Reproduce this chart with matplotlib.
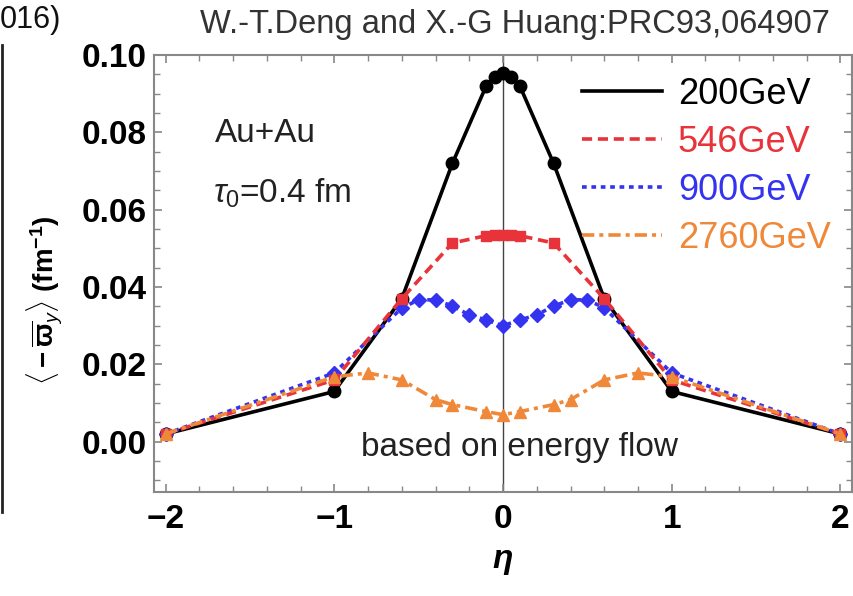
import numpy as np
import matplotlib.pyplot as plt
from matplotlib.lines import Line2D
from matplotlib.ticker import MultipleLocator

plt.rcParams['font.family'] = ['Liberation Sans', 'DejaVu Sans']
plt.rcParams['mathtext.fontset'] = 'custom'
plt.rcParams['mathtext.rm'] = 'Liberation Sans'
plt.rcParams['mathtext.it'] = 'Liberation Sans:italic'
plt.rcParams['mathtext.bf'] = 'Liberation Sans:bold'

# data: <-varpi_y> vs eta
eta_200 = [-2, -1, -0.6, -0.3, -0.1, -0.05, 0, 0.05, 0.1, 0.3, 0.6, 1, 2]
w_200 = [0.002, 0.013, 0.037, 0.072, 0.092, 0.0943, 0.0953, 0.0943, 0.092, 0.072, 0.037, 0.013, 0.002]

eta_546 = [-2, -1, -0.6, -0.3, -0.1, -0.05, 0, 0.05, 0.1, 0.3, 0.6, 1, 2]
w_546 = [0.002, 0.016, 0.037, 0.0514, 0.0533, 0.0535, 0.0535, 0.0535, 0.0533, 0.0514, 0.037, 0.016, 0.002]

eta_900 = [-2, -1, -0.6, -0.5, -0.4, -0.3, -0.2, -0.1, 0, 0.1, 0.2, 0.3, 0.4, 0.5, 0.6, 1, 2]
w_900 = [0.002, 0.0178, 0.0346, 0.0367, 0.0367, 0.0351, 0.0328, 0.0315, 0.030, 0.0315, 0.0328, 0.0351, 0.0367, 0.0367, 0.0346, 0.0178, 0.002]

eta_2760 = [-2, -1, -0.8, -0.6, -0.4, -0.3, -0.1, 0, 0.1, 0.3, 0.4, 0.6, 0.8, 1, 2]
w_2760 = [0.002, 0.0168, 0.0178, 0.016, 0.0109, 0.0096, 0.0078, 0.007, 0.0078, 0.0096, 0.0109, 0.016, 0.0178, 0.0168, 0.002]

labels = ['200GeV', '546GeV', '900GeV', '2760GeV']
colors = ['#000000', '#e8333a', '#3434f0', '#f0883a']

fig = plt.figure(figsize=(8.54, 5.96), dpi=100)
ax = fig.add_axes([0.180, 0.1745, 0.818, 0.733])

ax.axvline(0, color='#444444', lw=1.0, zorder=1)

styles = [
    dict(ls='-', marker='o', ms=9, zorder=2),
    dict(dashes=(2.8, 1.6), marker='s', ms=7, zorder=4),
    dict(dashes=(1.3, 1.3), marker='D', ms=7.5, zorder=3),
    dict(dashes=(3.4, 1.4, 1.1, 1.4), marker='^', ms=8, zorder=5),
]
series = [(eta_200, w_200), (eta_546, w_546), (eta_900, w_900), (eta_2760, w_2760)]

handles = []
for (x, y), c, lab, st in zip(series, colors, labels, styles):
    ax.plot(x, y, color=c, lw=2.6, mec=c, mfc=c, **st)
    st2 = {k: v for k, v in st.items() if k in ('ls', 'dashes')}
    handles.append(Line2D([], [], color=c, lw=2.6, **st2))

leg = ax.legend(handles, labels, loc='upper right', bbox_to_anchor=(1.0, 1.0),
                frameon=False, fontsize=26, handlelength=2.2, handletextpad=0.45,
                labelspacing=0.36, borderaxespad=0.2, labelcolor=colors)

ax.set_xlim(-2.07, 2.07)
ax.set_ylim(-0.013, 0.1)
ax.xaxis.set_major_locator(MultipleLocator(1))
ax.xaxis.set_minor_locator(MultipleLocator(0.2))
ax.yaxis.set_major_locator(MultipleLocator(0.02))
ax.yaxis.set_minor_locator(MultipleLocator(0.005))
ax.yaxis.set_major_formatter(plt.FuncFormatter(lambda v, p: f'{v:.2f}'))

ax.tick_params(which='both', direction='in', top=True, right=True, color='#888888')
ax.tick_params(which='major', length=6, width=1.2)
ax.tick_params(which='minor', length=4, width=1.0)
ax.tick_params(axis='x', which='major', pad=9)
ax.tick_params(axis='y', which='major', pad=5)
for lab in ax.get_xticklabels() + ax.get_yticklabels():
    lab.set_fontsize(24)
    lab.set_fontweight('bold')
for sp in ax.spines.values():
    sp.set_color('#888888')
    sp.set_linewidth(1.5)

ax.set_xlabel('η', fontsize=24, fontweight='bold', fontstyle='italic', labelpad=6)

ax.text(0.087, 0.821, 'Au+Au', transform=ax.transAxes, fontsize=24,
        color='#222222', va='center', ha='left')
ax.text(0.085, 0.684, r'$\tau_0$=0.4 fm', transform=ax.transAxes, fontsize=24,
        color='#222222', va='center', ha='left')
ax.text(0.524, 0.103, 'based on energy flow', transform=ax.transAxes, fontsize=24,
        color='#222222', va='center', ha='center', zorder=0)

fig.text(45 / 854, 1 - 300 / 596,
         r'$\mathbf{\langle -\overline{\varpi}}_{y}\mathbf{\rangle}$ (fm$^{\mathbf{-1}}$)',
         rotation=90, fontsize=20, fontweight='bold', ha='center', va='center')
fig.text(515 / 854, 1 - 25 / 596, 'W.-T.Deng and X.-G Huang:PRC93,064907',
         fontsize=23.5, color='#333333', ha='center', va='center')
fig.text(0.0, 1 - 20 / 596, '016)', fontsize=22, color='#111111', ha='left', va='center')
fig.add_artist(Line2D([2 / 854, 2 / 854], [1 - 45 / 596, 1 - 512 / 596],
                      color='#222222', lw=2))

fig.savefig('out.png', dpi=100)
